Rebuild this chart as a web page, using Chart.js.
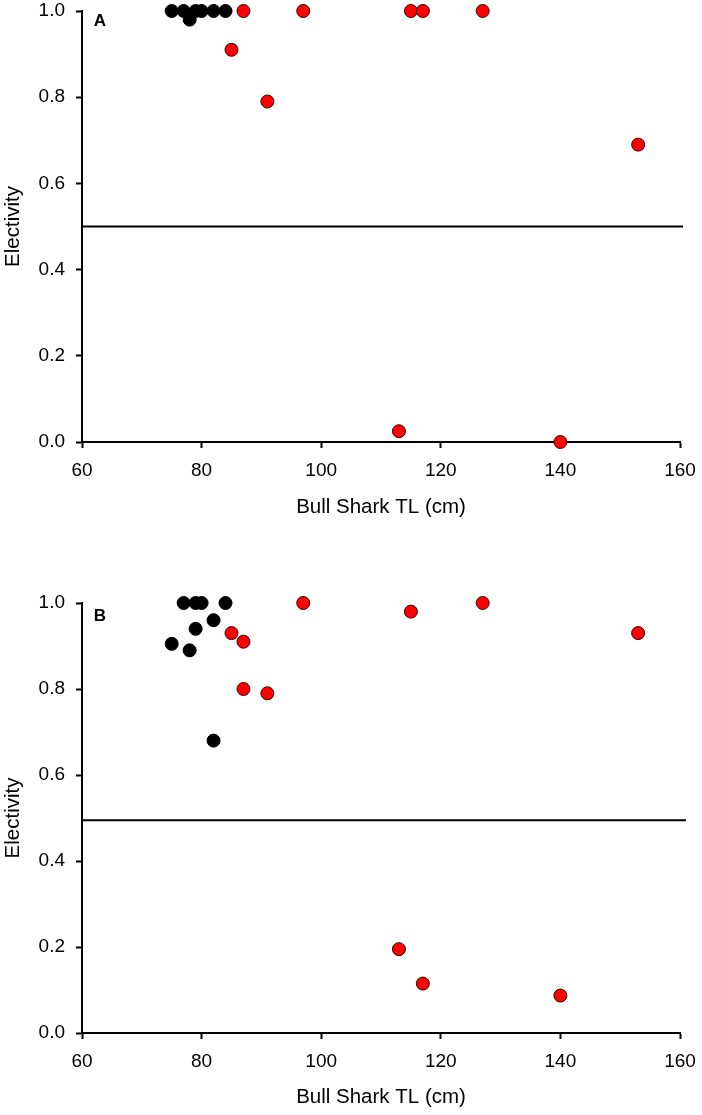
<!DOCTYPE html>
<html>
<head>
<meta charset="utf-8">
<script src="https://cdn.jsdelivr.net/npm/chart.js@4"></script>
<style>
  html, body { margin: 0; padding: 0; background: #fff; }
  #wrap { position: relative; width: 702px; height: 1115px; }
  canvas { position: absolute; left: 0; }
  #chartA { top: 0; }
  #chartB { top: 560px; }
</style>
</head>
<body>
<div id="wrap">
  <canvas id="chartA" width="702" height="560"></canvas>
  <canvas id="chartB" width="702" height="555"></canvas>
</div>
<script>
// panel A
const aBlackX = [75, 77, 78, 79, 80, 82, 84];
const aBlackY = [1, 1, 0.98, 1, 1, 1, 1];
const aRedX = [85, 87, 91, 97, 113, 115, 117, 127, 140, 153];
const aRedY = [0.91, 1, 0.79, 1, 0.025, 1, 1, 1, 0, 0.69];
const aRefX = [60, 160.5];
const aRefY = [0.5, 0.5];

// panel B
const bBlackX = [75, 77, 78, 79, 79, 80, 82, 82, 84];
const bBlackY = [0.905, 1, 0.89, 1, 0.94, 1, 0.96, 0.68, 1];
const bRedX = [85, 87, 87, 91, 97, 113, 115, 117, 127, 140, 153];
const bRedY = [0.93, 0.91, 0.8, 0.79, 1, 0.195, 0.98, 0.115, 1, 0.087, 0.93];
const bRefX = [60, 161];
const bRefY = [0.495, 0.495];

const xTicks = [60, 80, 100, 120, 140, 160];
const yTicks = [0, 0.2, 0.4, 0.6, 0.8, 1.0];

const FONT = "'Liberation Sans', Arial, sans-serif";

const toPoints = (xs, ys) => xs.map((x, i) => ({ x, y: ys[i] }));

const panelLabel = {
  id: "panelLabel",
  afterDraw(chart, args, opts) {
    const { ctx, chartArea } = chart;
    ctx.save();
    ctx.font = `bold 17px ${FONT}`;
    ctx.fillStyle = "#000";
    ctx.textAlign = "center";
    ctx.textBaseline = "middle";
    ctx.fillText(opts.text, chartArea.left + opts.dx, chartArea.top + opts.dy);
    ctx.restore();
  },
};

const buildChart = (canvasId, cfg) => {
  const ctx = document.getElementById(canvasId).getContext("2d");
  return new Chart(ctx, {
    type: "scatter",
    data: {
      datasets: [
        {
          type: "line",
          data: toPoints(cfg.refX, cfg.refY),
          borderColor: "#000",
          borderWidth: 2,
          pointRadius: 0,
          fill: false,
          clip: false,
        },
        {
          data: toPoints(cfg.redX, cfg.redY),
          backgroundColor: "#ff0000",
          borderColor: "#3a0000",
          borderWidth: 1,
          pointRadius: 6.5,
          clip: false,
        },
        {
          data: toPoints(cfg.blackX, cfg.blackY),
          backgroundColor: "#000",
          borderColor: "#000",
          borderWidth: 1,
          pointRadius: 6.5,
          clip: false,
        },
      ],
    },
    options: {
      responsive: false,
      animation: false,
      layout: { padding: { top: cfg.top, right: 22, left: 0, bottom: 0 } },
      plugins: {
        legend: { display: false },
        tooltip: { enabled: false },
        panelLabel: { text: cfg.label, dx: 18, dy: cfg.labelDy },
      },
      scales: {
        x: {
          type: "linear",
          min: xTicks[0],
          max: xTicks[xTicks.length - 1],
          afterBuildTicks: (s) => { s.ticks = xTicks.map((v) => ({ value: v })); },
          afterFit: (s) => {
            s.height = cfg.xHeight;
            s.paddingLeft = 0;
            s.paddingRight = 0;
          },
          border: { color: "#000", width: 2 },
          grid: { drawOnChartArea: false, tickLength: 6, tickColor: "#000", tickWidth: 2 },
          ticks: {
            padding: 11,
            color: "#000",
            font: { family: FONT, size: 19 },
            maxRotation: 0,
          },
          title: {
            display: true,
            text: "Bull Shark TL (cm)",
            color: "#000",
            font: { family: FONT, size: 20.5 },
            padding: { top: 0, bottom: cfg.titlePad },
          },
        },
        y: {
          min: 0,
          max: 1,
          afterBuildTicks: (s) => { s.ticks = yTicks.map((v) => ({ value: v })); },
          afterFit: (s) => {
            s.width = 82;
            s.paddingTop = 0;
            s.paddingBottom = 0;
          },
          border: { color: "#000", width: 2 },
          grid: { drawOnChartArea: false, tickLength: 6, tickColor: "#000", tickWidth: 2 },
          ticks: {
            padding: 11,
            color: "#000",
            font: { family: FONT, size: 19 },
            callback: (v) => Number(v).toFixed(1),
          },
          title: {
            display: true,
            text: "Electivity",
            color: "#000",
            font: { family: FONT, size: 20.5 },
            padding: { top: 1, bottom: 0 },
          },
        },
      },
    },
    plugins: [panelLabel],
  });
};

buildChart("chartA", {
  blackX: aBlackX, blackY: aBlackY, redX: aRedX, redY: aRedY,
  refX: aRefX, refY: aRefY,
  label: "A", labelDy: 10, top: 11, xHeight: 118, titlePad: 40,
});

buildChart("chartB", {
  blackX: bBlackX, blackY: bBlackY, redX: bRedX, redY: bRedY,
  refX: bRefX, refY: bRefY,
  label: "B", labelDy: 13, top: 43, xHeight: 82, titlePad: 5,
});
</script>
</body>
</html>
